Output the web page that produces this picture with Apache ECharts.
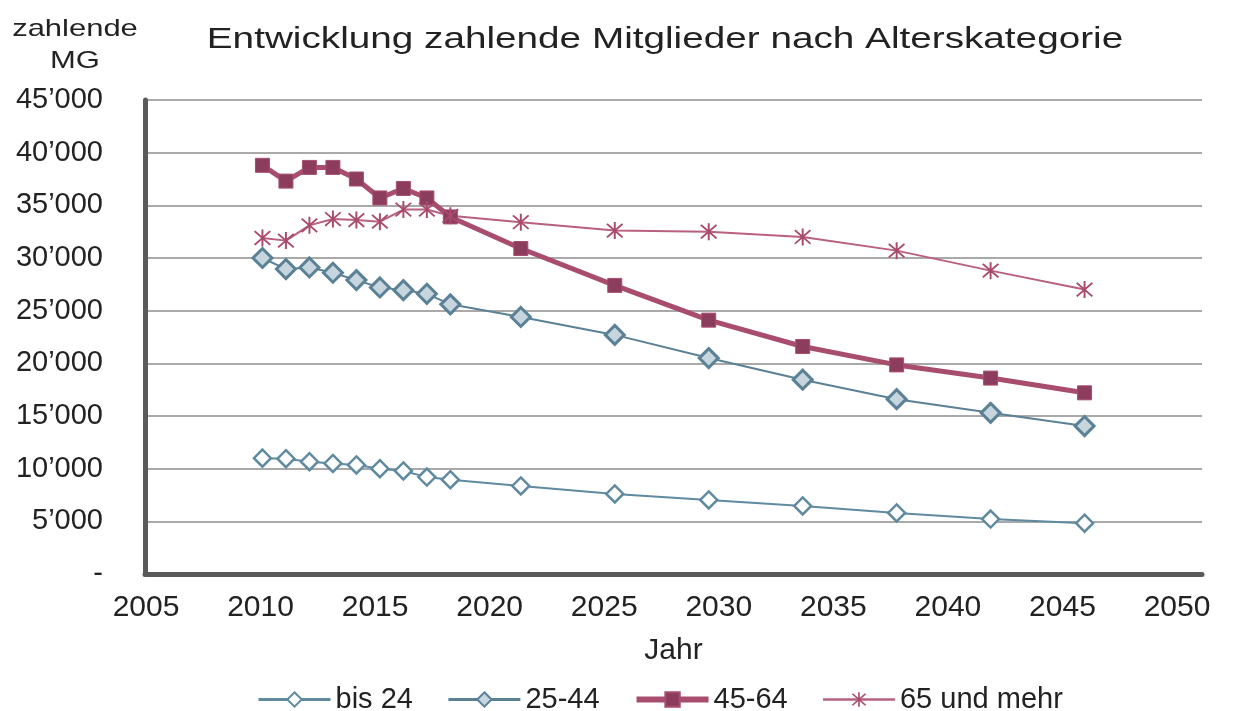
<!DOCTYPE html>
<html>
<head>
<meta charset="utf-8">
<script src="https://cdn.jsdelivr.net/npm/echarts@6/dist/echarts.min.js"></script>
<style>
	html, body { margin: 0; padding: 0; background: #fff; }
	#chart { width: 1242px; height: 711px; }
</style>
</head>
<body>
<div id="chart"></div>
<script>
	// Jahre und Werte (zahlende Mitglieder)
	var years = [2010, 2011, 2012, 2013, 2014, 2015, 2016, 2017, 2018, 2021, 2025, 2029, 2033, 2037, 2041, 2045];
	var bis24 = [11000, 10950, 10660, 10500, 10350, 10000, 9780, 9200, 8950, 8360, 7600, 7030, 6460, 5800, 5220, 4820];
	var alter2544 = [30000, 28950, 29100, 28600, 27900, 27200, 26950, 26600, 25600, 24400, 22700, 20500, 18450, 16600, 15300, 14050];
	var alter4564 = [38800, 37300, 38600, 38600, 37500, 35700, 36600, 35700, 33900, 30900, 27400, 24100, 21600, 19850, 18600, 17200];
	var alter65 = [31900, 31650, 33100, 33700, 33600, 33450, 34600, 34600, 34000, 33400, 32600, 32500, 32000, 30700, 28800, 27000];
	var seriesNames = ['bis 24', '25-44', '45-64', '65 und mehr'];

	function pairs(vals) {
		var out = [];
		for (let i = 0; i < years.length; i++) {
			out.push([years[i], vals[i]]);
		}
		return out;
	}

	function fmtThousand(v) {
		if (v == 0) return '-';
		var s = String(v);
		return s.slice(0, s.length - 3) + '\u2019' + s.slice(s.length - 3);
	}

	var starPath = 'path://M9,0 L11,0 L11,20 L9,20 Z M1.3,2.7 L2.7,1.3 L18.7,17.3 L17.3,18.7 Z M17.3,1.3 L18.7,2.7 L2.7,18.7 L1.3,17.3 Z';
	var font = '"Liberation Sans", Arial, sans-serif';

	var blue1 = '#5f8aa0', blue2 = '#5a8195', red1 = '#a84d6e', red2 = '#b9607f';

	var chart = echarts.init(document.getElementById('chart'));
	var option = {
		animation: false,
		backgroundColor: '#ffffff',
		textStyle: { fontFamily: font, color: '#222' },
		graphic: [
			{
				type: 'text', x: 665, y: 40, scaleX: 1.29,
				style: { text: 'Entwicklung zahlende Mitglieder nach Alterskategorie', font: '30px ' + font, fill: '#222', textAlign: 'center', textVerticalAlign: 'middle' }
			},
			{
				type: 'text', x: 75, y: 45, scaleX: 1.29,
				style: { text: 'zahlende\nMG', font: '24px ' + font, lineHeight: 32, fill: '#222', textAlign: 'center', textVerticalAlign: 'middle' }
			}
		],
		grid: [
			{ left: 145, right: 40, top: 100, bottom: 137 },
			{ left: 146, right: 65, top: 100, bottom: 137 }
		],
		legend: {
			top: 680,
			left: 252,
			itemWidth: 72,
			itemHeight: 18,
			itemGap: 34,
			textStyle: { fontSize: 29, color: '#222', fontFamily: font },
			data: [
				{ name: seriesNames[0], lineStyle: { width: 3 } },
				{ name: seriesNames[1], lineStyle: { width: 3 } },
				{ name: seriesNames[2], lineStyle: { width: 6 } },
				{ name: seriesNames[3], lineStyle: { width: 2.5 } }
			]
		},
		xAxis: [
			{
				type: 'value', gridIndex: 0, min: 2005, max: 2050, interval: 5,
				axisLine: { show: true, lineStyle: { color: '#5a5a5a', width: 5 } },
				axisTick: { show: false },
				axisLabel: { show: false },
				splitLine: { show: false },
				name: 'Jahr', nameLocation: 'middle', nameGap: 62,
				nameTextStyle: { fontSize: 30, color: '#222', fontFamily: font }
			},
			{
				type: 'value', gridIndex: 1, min: 2005, max: 2050, interval: 5,
				axisLine: { show: false },
				axisTick: { show: false },
				splitLine: { show: false },
				axisLabel: { fontSize: 30, color: '#222', margin: 19, fontFamily: font, formatter: function (v) { return String(v); } }
			}
		],
		yAxis: [
			{
				type: 'value', gridIndex: 0, min: 0, max: 45000, interval: 5000,
				axisLine: { show: true, lineStyle: { color: '#5a5a5a', width: 5 } },
				axisTick: { show: false },
				axisLabel: { fontSize: 29, color: '#222', margin: 42, fontFamily: font, formatter: fmtThousand },
				splitLine: { show: true, lineStyle: { color: '#a9a9a9', width: 2 } }
			},
			{
				type: 'value', gridIndex: 1, min: 0, max: 45000, show: false
			}
		],
		series: [
			{
				name: seriesNames[0], type: 'line', data: pairs(bis24),
				symbol: 'diamond', symbolSize: 17,
				lineStyle: { color: blue1, width: 2 },
				itemStyle: { color: '#ffffff', borderColor: blue1, borderWidth: 2.5 }
			},
			{
				name: seriesNames[1], type: 'line', data: pairs(alter2544),
				symbol: 'diamond', symbolSize: 19,
				lineStyle: { color: blue2, width: 2 },
				itemStyle: { color: '#c6d5de', borderColor: blue2, borderWidth: 3 }
			},
			{
				name: seriesNames[2], type: 'line', data: pairs(alter4564),
				symbol: 'rect', symbolSize: 14,
				lineStyle: { color: red1, width: 5 },
				itemStyle: { color: '#8c3d5e', borderColor: red1, borderWidth: 1 }
			},
			{
				name: seriesNames[3], type: 'line', data: pairs(alter65),
				symbol: starPath, symbolSize: 17,
				lineStyle: { color: red2, width: 2 },
				itemStyle: { color: '#a94a6c', borderWidth: 0 }
			}
		]
	};
	chart.setOption(option);
</script>
</body>
</html>
